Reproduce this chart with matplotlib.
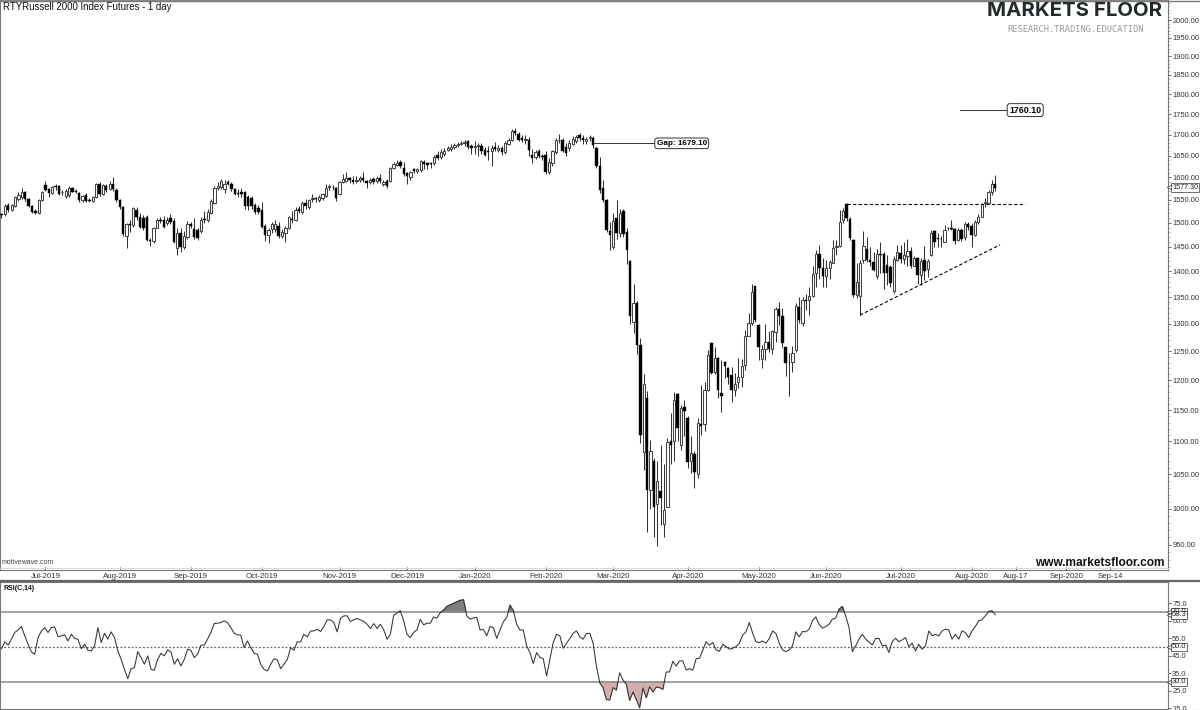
import numpy as np
import matplotlib
matplotlib.use("Agg")
import matplotlib.pyplot as plt
from matplotlib.ticker import FixedLocator, NullFormatter

plt.rcParams['font.family'] = ['Liberation Sans', 'DejaVu Sans']

# daily candles
opens = [1518,1518,1538,1527,1536,1552,1556,1566,1551,1536,
 1526,1520,1550,1582,1573,1565,1580,1580,1566,
 1558,1561,1576,1570,1564,1549,1561,1550,1548,1556,
 1586,1562,1580,1573,1585,1572,1549,1534,1473,1497,
 1495,1527,1513,1510,1512,1464,1461,1490,1505,1506,
 1499,1510,1503,1448,1479,1450,1470,1497,1486,1484,
 1482,1509,1505,1521,1543,1577,1578,1574,1589,1585,
 1573,1565,1566,1566,1555,1553,1538,1531,1527,1494,
 1474,1487,1487,1494,1473,1478,1490,1509,1506,1529,
 1523,1543,1533,1552,1553,1549,1554,1559,1578,1578,
 1576,1562,1590,1592,1598,1594,1591,1593,1598,
 1591,1589,1597,1591,1599,1586,1591,1592,1622,1628,
 1635,1622,1609,1600,1618,1614,1616,1636,1632,1633,
 1634,1652,1646,1654,1664,1666,1670,1674,1678,1679,
 1685,1673,1670,1672,1673,1664,1662,1660,1670,1663,
 1669,1658,1678,1688,1708,1702,1691,1687,1688,1652,
 1646,1662,1650,1652,1612,1632,1658,1686,1688,1670,
 1668,1678,1684,1698,1692,1684,1692,1692,1668,1626,
 1576,1549,1482,1450,1510,1478,1525,1481,1420,1304,
 1338,1261,1084,1170,1027,1070,1006,1026,979,1003,
 1100,1101,1176,1095,1155,1137,1070,1080,1050,1127,
 1127,1183,1265,1214,1238,1178,1232,1220,1208,1183,
 1197,1205,1226,1277,1302,1371,1297,1236,1255,1267,
 1255,1285,1327,1314,1257,1232,1231,1253,1332,1301,
 1345,1344,1353,1396,1436,1407,1391,1406,1417,1449,
 1451,1506,1541,1509,1463,1354,1352,1423,1446,1423,
 1418,1392,1435,1436,1413,1408,1361,1423,1437,1425,
 1432,1442,1410,1427,1393,1422,1404,1433,1482,1469,
 1467,1460,1489,1488,1487,1463,1485,1471,1498,1494,
 1475,1502,1513,1542,1543,1567,1584]
highs = [1522,1540,1542,1540,1558,1568,1576,1570,1553,1538,
 1529,1552,1570,1592,1576,1580,1584,1583,1572,
 1574,1580,1579,1574,1568,1560,1564,1554,1559,1587,
 1590,1585,1584,1592,1600,1575,1552,1536,1500,1505,
 1535,1534,1522,1516,1516,1468,1492,1510,1512,1515,
 1512,1518,1510,1488,1488,1482,1504,1501,1510,1490,
 1512,1525,1530,1552,1580,1590,1597,1594,1594,1590,
 1577,1573,1576,1570,1560,1558,1542,1538,1545,1498,
 1490,1502,1505,1502,1486,1494,1515,1525,1534,1536,
 1547,1551,1552,1562,1556,1560,1565,1584,1586,1583,
 1578,1592,1608,1612,1600,1603,1604,1603,1612,
 1594,1598,1600,1603,1607,1593,1596,1624,1636,1640,
 1640,1636,1612,1614,1622,1622,1640,1640,1636,1636,
 1652,1662,1666,1668,1672,1677,1680,1682,1684,1687,
 1688,1678,1684,1680,1680,1670,1672,1674,1682,1675,
 1672,1684,1692,1713,1715,1706,1700,1698,1695,1665,
 1664,1665,1654,1660,1645,1664,1692,1702,1692,1680,
 1686,1696,1698,1704,1698,1694,1700,1696,1670,1646,
 1593,1552,1502,1520,1549,1530,1530,1490,1422,1376,
 1342,1274,1211,1182,1103,1075,1070,1094,1065,1105,
 1145,1180,1179,1158,1167,1140,1108,1085,1137,1192,
 1197,1252,1267,1258,1240,1235,1233,1222,1222,1212,
 1238,1236,1288,1320,1376,1372,1300,1262,1300,1286,
 1288,1331,1341,1330,1258,1247,1260,1338,1351,1351,
 1356,1370,1410,1443,1453,1426,1423,1423,1464,1464,
 1528,1532,1543,1512,1465,1417,1423,1482,1471,1450,
 1440,1446,1460,1440,1433,1413,1431,1453,1453,1460,
 1465,1450,1431,1430,1427,1452,1425,1484,1485,1478,
 1473,1495,1492,1507,1489,1490,1490,1502,1502,1500,
 1506,1518,1543,1553,1572,1594,1605]
lows = [1510,1514,1524,1525,1534,1548,1552,1548,1533,1520,
 1518,1518,1548,1570,1555,1562,1572,1561,1560,
 1553,1556,1566,1564,1546,1546,1544,1546,1546,1554,
 1558,1560,1568,1571,1570,1545,1530,1472,1447,1480,
 1492,1505,1488,1484,1462,1452,1458,1488,1500,1488,
 1495,1498,1458,1434,1440,1445,1465,1490,1465,1464,
 1478,1500,1502,1518,1540,1572,1574,1565,1582,1570,
 1560,1555,1555,1530,1528,1530,1518,1518,1488,1462,
 1458,1478,1480,1468,1468,1460,1486,1500,1503,1520,
 1518,1530,1530,1545,1546,1545,1550,1556,1572,1572,
 1548,1560,1588,1590,1588,1586,1588,1590,1590,
 1576,1585,1584,1588,1587,1580,1577,1590,1620,1625,
 1622,1603,1585,1595,1610,1610,1613,1620,1618,1622,
 1628,1640,1642,1650,1660,1662,1666,1670,1674,1672,
 1665,1655,1655,1650,1655,1650,1640,1625,1660,1658,
 1652,1655,1675,1685,1700,1684,1682,1678,1650,1632,
 1642,1644,1640,1608,1608,1625,1654,1680,1658,1650,
 1660,1675,1680,1685,1678,1678,1684,1668,1622,1565,
 1545,1480,1443,1445,1467,1470,1470,1415,1300,1283,
 1245,1098,1057,967,1000,960,948,977,960,1003,
 1065,1070,1100,1087,1108,1060,1052,1030,1045,1110,
 1117,1182,1210,1211,1170,1147,1203,1194,1164,1173,
 1186,1188,1218,1278,1297,1304,1235,1220,1235,1249,
 1245,1267,1298,1258,1207,1173,1214,1248,1302,1296,
 1325,1316,1350,1370,1386,1370,1370,1386,1417,1433,
 1450,1500,1503,1463,1350,1349,1316,1417,1418,1410,
 1400,1385,1396,1366,1373,1370,1358,1420,1417,1415,
 1411,1406,1410,1375,1373,1383,1390,1431,1450,1450,
 1450,1460,1484,1484,1456,1462,1462,1464,1484,1450,
 1473,1498,1512,1534,1542,1560,1570]
closes = [1516,1536,1527,1538,1555,1560,1567,1551,1536,1523,
 1520,1550,1567,1572,1565,1578,1578,1563,1568,
 1569,1576,1568,1567,1549,1558,1548,1548,1556,1585,
 1562,1582,1571,1586,1573,1549,1534,1477,1497,1495,
 1532,1512,1491,1489,1464,1461,1490,1505,1503,1492,
 1506,1502,1460,1479,1450,1472,1497,1493,1470,1468,
 1507,1505,1523,1547,1577,1580,1591,1585,1585,1574,
 1563,1562,1563,1536,1536,1536,1523,1523,1492,1474,
 1485,1498,1498,1472,1480,1489,1512,1505,1527,1525,
 1543,1536,1550,1554,1551,1555,1562,1577,1581,1579,
 1553,1590,1597,1598,1593,1590,1595,1598,1593,
 1588,1595,1590,1599,1591,1589,1581,1622,1630,1634,
 1625,1608,1602,1612,1614,1618,1637,1630,1628,1631,
 1647,1645,1659,1660,1667,1671,1675,1677,1679,1683,
 1671,1669,1673,1675,1660,1652,1658,1668,1666,1669,
 1658,1680,1688,1709,1703,1688,1687,1690,1664,1645,
 1659,1648,1647,1613,1636,1660,1688,1688,1662,1657,
 1680,1690,1694,1692,1688,1690,1694,1676,1625,1572,
 1550,1485,1475,1504,1479,1522,1476,1444,1314,1339,
 1261,1110,1194,1027,1085,1003,1040,1015,998,1099,
 1095,1167,1122,1153,1149,1068,1082,1053,1129,1125,
 1183,1243,1212,1238,1183,1173,1225,1205,1184,1194,
 1205,1225,1277,1301,1360,1307,1258,1255,1267,1255,
 1286,1328,1314,1265,1230,1231,1247,1333,1307,1344,
 1343,1353,1395,1436,1407,1392,1407,1418,1448,1451,
 1502,1525,1510,1469,1354,1379,1417,1452,1423,1418,
 1402,1435,1433,1396,1396,1377,1425,1440,1425,1433,
 1442,1411,1427,1393,1420,1400,1420,1478,1460,1467,
 1466,1485,1488,1487,1461,1485,1466,1498,1491,1475,
 1502,1513,1541,1544,1567,1585,1577]

rsi = [49.0,52.9,51,54.4,58.2,59.7,61.6,56.3,51.5,47.1,45.8,55.3,59.1,61,58.2,61,61.4,55.7,56.3,56.9,
 53.4,57.2,54.8,54.4,49,51.5,48.1,47.7,50.6,61,52.5,57.8,54.4,58.6,55.3,47.7,42.9,37.2,31.9,37.6,
 38.2,47.3,43.9,40.1,44.9,37.2,36.7,42.9,46.4,44.9,48.3,47.1,40.1,43.3,39.1,42.9,48.7,48.1,43.9,45.8,
 51,51,54.4,58.2,63.3,63.5,63.9,64.9,63.9,61,57.8,56.9,56.7,49.6,53.4,49.6,46.4,45.8,40.1,37.2,
 36.3,40.1,43.3,42.6,37.6,40.1,42.9,49.6,48.1,52.9,52.9,57.2,55.7,59.1,59.1,60.1,58.8,61.6,65.4,65.4,
 63.9,58.6,66.2,67.7,67.7,64.5,65.4,66.2,65.4,64.5,62.9,60.5,63.3,60.5,62.9,59.7,54.4,57.2,68.1,69.2,70.6,
 64.9,57.2,55.3,58.2,59.7,65.8,62.6,63.5,63.5,67.1,66.4,69.6,70.9,73,74,74.8,75.7,76.5,76.9,67.7,
 65.8,66.6,66.8,59.7,59.9,56.3,61.6,61,54.8,59.7,64.3,66.8,73.8,70.6,62.9,59.7,59.7,50.6,46.8,40.5,
 46.8,43.9,43.3,33.4,42.9,52.5,57.2,56.3,49.2,52.1,54.8,57.8,59.1,55.7,54.4,57.6,57.8,52.1,39.1,29.6,
 26.8,20.1,19.7,26.8,25.4,35.3,31.1,28.7,19.5,24.3,20.1,15.3,26.6,21,27.3,24.3,27.1,26.8,25.8,35.7,
 35.7,41.8,39.1,42,42,36.8,37.6,36.7,43.3,43.5,48.1,53,51,52.5,48.3,47.5,51.5,50.2,48.7,49.2,
 50.2,52.1,56.7,58.6,63.9,57.8,52.9,52.5,53.4,52.1,54.8,59.1,57.6,52.1,48.3,47.3,48.3,50.6,58.6,55.7,
 58.8,58.6,60.1,64.9,67.1,62.9,60.7,61.6,62.9,65.8,66.4,71.5,73,67.7,61,47.3,50.6,54.4,57.2,54.4,
 52.9,51.1,54.8,54.9,50.6,51.1,46.8,53,54.9,53,54,55.3,50.2,52.1,47.7,51.5,48.7,50.6,59.1,56.3,
 57.2,56.3,59.1,60.1,59.7,54.4,57.2,54.4,59.1,58.2,55.3,59.1,61.6,64.9,65.4,67.7,70.2,70.6,68.3]

date_pos = [13,35,56,77,100,120,140,161,181,203,224,244,266,287,300,315,328]
date_labels = ['Jul-2019','Aug-2019','Sep-2019','Oct-2019','Nov-2019','Dec-2019','Jan-2020','Feb-2020',
               'Mar-2020','Apr-2020','May-2020','Jun-2020','Jul-2020','Aug-2020','Aug-17','Sep-2020','Sep-14']
price_ticks = list(range(950, 2001, 50))
price_minor = list(range(920, 2051, 10))
rsi_ticks = [75, 65, 55, 45, 35, 25, 15]

W, H = 1200, 710
AW = 1168
fig = plt.figure(figsize=(W/100, H/100), dpi=100, facecolor='white')
ax = fig.add_axes([0, 1-570/H, AW/W, 570/H])
ax2 = fig.add_axes([0, 1-709/H, AW/W, 127/H])

n = len(closes)
x = np.arange(n)
opens, highs, lows, closes = map(np.array, (opens, highs, lows, closes))
up = closes >= opens

# candles
ax.vlines(x, lows, highs, color='#333333', lw=0.75, zorder=2)
ax.bar(x[up], (closes-opens)[up], bottom=opens[up], width=0.66, facecolor='white', edgecolor='#444444', lw=0.75, zorder=3)
ax.bar(x[~up], (opens-closes)[~up], bottom=closes[~up], width=0.72, facecolor='black', edgecolor='black', lw=0.3, zorder=3)

ax.set_yscale('log')
ax.set_ylim(916.7, 2057.6)
ax.set_xlim(-0.44, 345.1)
ax.yaxis.tick_right()
ax.yaxis.set_major_locator(FixedLocator(price_ticks))
ax.yaxis.set_minor_locator(FixedLocator(price_minor))
ax.yaxis.set_major_formatter(lambda v, p: f'{v:.2f}')
ax.yaxis.set_minor_formatter(NullFormatter())
ax.tick_params(axis='y', which='major', length=2, width=0.7, color='#666666', labelsize=5.4, pad=1, labelcolor='#333333')
ax.tick_params(axis='y', which='minor', length=1.2, width=0.6, color='#aaaaaa')
ax.set_xticks(date_pos)
ax.set_xticklabels(date_labels)
ax.tick_params(axis='x', direction='in', length=2.5, width=0.7, color='#555555', labelsize=5.7, pad=2.5, labelcolor='#333333')
for s in ax.spines.values():
    s.set_color('#777777')
    s.set_linewidth(0.8)
ax.spines['left'].set_linewidth(1.5)
ax.spines['top'].set_linewidth(1.2)

# trend lines and targets
ax.plot([250, 302.8], [1541, 1541], color='black', lw=0.8, ls=(0, (3, 2)), zorder=4)
ax.plot([254, 295.4], [1316, 1454], color='black', lw=0.8, ls=(0, (3, 2)), zorder=4)
ax.plot([175.3, 193.6], [1679.1, 1679.1], color='#333333', lw=0.7)
ax.plot([283.6, 297.8], [1760.1, 1760.1], color='#333333', lw=0.7)
box = dict(boxstyle='round,pad=0.22,rounding_size=0.3', fc='white', ec='#333333', lw=0.7)
ax.text(193.8, 1679.1, 'Gap: 1679.10', fontsize=5.9, fontweight='bold', va='center', ha='left', bbox=box)
ax.text(298.1, 1760.1, '1760.10', fontsize=6.4, fontweight='bold', va='center', ha='left', bbox=box)


def price_tag(a, v, lab, size=5.4):
    # boxed last value on the right axis with a small pointer
    a.plot([1.0012], [v], marker='<', ms=3.2, mfc='white', mec='#333333', mew=0.5, clip_on=False,
           transform=a.get_yaxis_transform(), zorder=6)
    a.text(1.0034, v, lab, transform=a.get_yaxis_transform(), fontsize=size, va='center', ha='left', color='#222222',
           bbox=dict(boxstyle='square,pad=0.1', fc='white', ec='#333333', lw=0.5), clip_on=False, zorder=5)


price_tag(ax, 1577.3, '1577.30', 5.2)

# header and branding
fig.text(3/W, 1-7.5/H, 'RTYRussell 2000 Index Futures - 1 day', fontsize=6.95, va='center', color='#111111')
fig.text(1075/W, 1-11.5/H, 'MARKETS FLOOR', family='Inter', fontsize=14.7, fontweight='bold', va='center', ha='center', color='#222a2c')
fig.text(1075.5/W, 1-30/H, 'RESEARCH.TRADING.EDUCATION', family='DejaVu Sans Mono', fontsize=6.2, va='center', ha='center', color='#999999')
fig.text(1165/W, 1-563/H, 'www.marketsfloor.com', fontsize=8.55, fontweight='bold', va='center', ha='right', color='#111111')
fig.text(2/W, 1-562/H, 'motivewave.com', fontsize=5, va='center', color='#444444')
fig.add_artist(plt.Line2D([0, 1], [1-581/H, 1-581/H], color='#666666', lw=1.6))
fig.add_artist(plt.Line2D([0, 1], [1-709.5/H, 1-709.5/H], color='#777777', lw=0.8))
fig.add_artist(plt.Line2D([0, 1], [1-0.5/H, 1-0.5/H], color='#777777', lw=1))
fig.add_artist(plt.Line2D([0, AW/W], [1-567.8/H, 1-567.8/H], color='#d9d9cc', lw=0.7))

# RSI panel
rsi = np.array(rsi)
xr = np.linspace(0, n-1, len(rsi))
ax2.plot(xr, rsi, color='#333333', lw=0.75, zorder=3)
ax2.fill_between(xr, 70, rsi, where=rsi >= 70, interpolate=True, color='#808080', zorder=2)
ax2.fill_between(xr, 30, rsi, where=rsi <= 30, interpolate=True, color='#d3aeae', zorder=2)
ax2.axhline(70, color='#888888', lw=1.1)
ax2.axhline(30, color='#888888', lw=1.1)
ax2.axhline(50, color='#666666', lw=0.9, ls=(0, (1.5, 1.5)))
ax2.set_xlim(ax.get_xlim())
ax2.set_ylim(14.6, 87)
ax2.set_xticks([])
ax2.yaxis.tick_right()
ax2.set_yticks(rsi_ticks)
ax2.set_yticklabels([f'{v:.1f}' for v in rsi_ticks])
ax2.tick_params(axis='y', length=2, width=0.7, color='#666666', labelsize=5.4, pad=1, labelcolor='#333333')
for s in ax2.spines.values():
    s.set_color('#777777')
    s.set_linewidth(0.8)
ax2.spines['left'].set_linewidth(1.5)
ax2.text(3/AW, 1-7/127, 'RSI(C,14)', transform=ax2.transAxes, fontsize=5.0, fontweight='bold', va='center', color='#111111')
for v, lab in [(70, '70.0'), (68.3, '68.3'), (50, '50.0'), (30, '30.0')]:
    price_tag(ax2, v, lab)

fig.savefig('out.png', dpi=100)
